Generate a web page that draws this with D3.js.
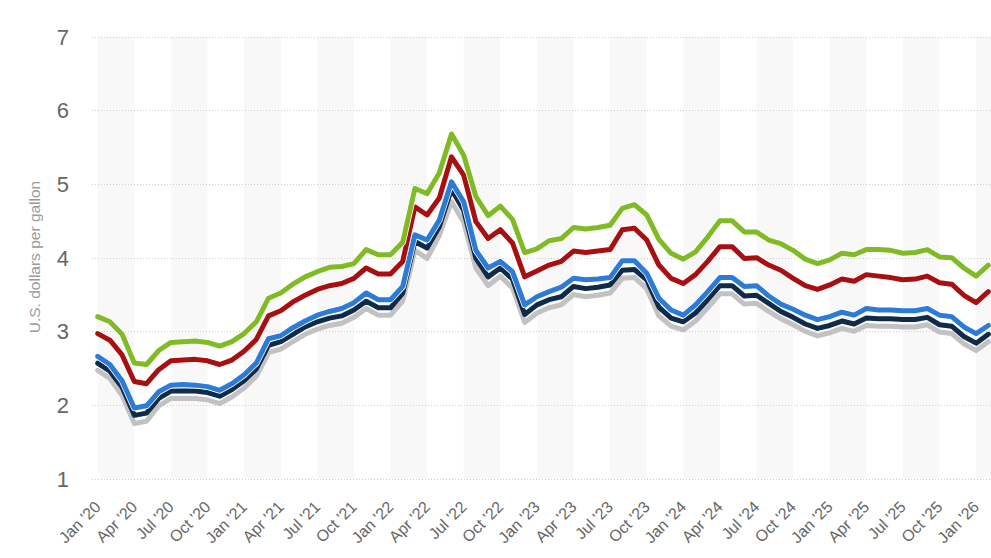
<!DOCTYPE html>
<html>
<head>
<meta charset="utf-8">
<script src="https://cdn.jsdelivr.net/npm/d3@7"></script>
<style>
  html, body { margin: 0; padding: 0; background: #fff; }
  svg { display: block; font-family: "Liberation Sans", Arial, sans-serif; }
</style>
</head>
<body>
<div id="app"></div>
<script>
// monthly prices, Jan 2020 .. Feb 2026 (U.S. dollars per gallon)
const premium = [
  3.20, 3.13, 2.96, 2.57, 2.55, 2.74, 2.85, 2.86, 2.87, 2.85, 2.80, 2.86,
  2.97, 3.13, 3.45, 3.52, 3.64, 3.74, 3.81, 3.87, 3.88, 3.92, 4.11, 4.04,
  4.04, 4.21, 4.94, 4.87, 5.15, 5.68, 5.39, 4.83, 4.57, 4.70, 4.52, 4.07,
  4.12, 4.23, 4.26, 4.41, 4.39, 4.41, 4.44, 4.67, 4.72, 4.58, 4.25, 4.06,
  3.98, 4.08, 4.28, 4.50, 4.50, 4.35, 4.35, 4.24, 4.19, 4.10, 3.98, 3.92,
  3.97, 4.06, 4.04, 4.11, 4.11, 4.10, 4.06, 4.07, 4.11, 4.01, 4.00, 3.86,
  3.75, 3.90
];
const midgrade = [
  2.97, 2.88, 2.68, 2.32, 2.29, 2.48, 2.60, 2.61, 2.62, 2.60, 2.55, 2.61,
  2.73, 2.89, 3.21, 3.28, 3.40, 3.49, 3.57, 3.62, 3.65, 3.72, 3.86, 3.78,
  3.78, 3.95, 4.69, 4.58, 4.81, 5.37, 5.12, 4.49, 4.26, 4.38, 4.20, 3.74,
  3.82, 3.90, 3.95, 4.09, 4.07, 4.09, 4.11, 4.38, 4.40, 4.24, 3.90, 3.72,
  3.65, 3.77, 3.95, 4.15, 4.15, 3.99, 4.00, 3.90, 3.83, 3.72, 3.62, 3.57,
  3.63, 3.71, 3.68, 3.77, 3.75, 3.73, 3.70, 3.71, 3.75, 3.66, 3.64, 3.49,
  3.39, 3.54
];
const allGrades = [
  2.66, 2.55, 2.33, 1.96, 1.99, 2.18, 2.27, 2.28, 2.27, 2.25, 2.20, 2.29,
  2.41, 2.57, 2.90, 2.94, 3.05, 3.14, 3.22, 3.27, 3.31, 3.39, 3.52, 3.43,
  3.43, 3.61, 4.31, 4.24, 4.51, 5.03, 4.76, 4.10, 3.86, 3.95, 3.81, 3.36,
  3.47, 3.54, 3.60, 3.72, 3.70, 3.71, 3.73, 3.96, 3.96, 3.79, 3.45, 3.29,
  3.22, 3.36, 3.54, 3.73, 3.73, 3.61, 3.62, 3.48, 3.37, 3.30, 3.22, 3.16,
  3.20, 3.26, 3.22, 3.31, 3.29, 3.29, 3.28, 3.28, 3.31, 3.22, 3.20, 3.06,
  2.97, 3.08
];
const regular = [
  2.57, 2.46, 2.24, 1.86, 1.89, 2.09, 2.19, 2.19, 2.19, 2.17, 2.12, 2.21,
  2.33, 2.49, 2.81, 2.86, 2.96, 3.06, 3.13, 3.18, 3.21, 3.29, 3.41, 3.32,
  3.32, 3.52, 4.22, 4.13, 4.42, 4.93, 4.64, 3.99, 3.74, 3.86, 3.71, 3.23,
  3.36, 3.43, 3.47, 3.61, 3.58, 3.60, 3.63, 3.83, 3.84, 3.70, 3.33, 3.18,
  3.13, 3.25, 3.43, 3.62, 3.62, 3.48, 3.49, 3.38, 3.27, 3.19, 3.10, 3.04,
  3.08, 3.14, 3.10, 3.18, 3.17, 3.17, 3.16, 3.16, 3.19, 3.09, 3.07, 2.93,
  2.84, 2.96
];
const conventional = [
  2.47, 2.36, 2.13, 1.75, 1.78, 1.99, 2.09, 2.09, 2.09, 2.07, 2.02, 2.11,
  2.23, 2.39, 2.71, 2.76, 2.86, 2.96, 3.03, 3.08, 3.11, 3.19, 3.31, 3.22,
  3.22, 3.41, 4.10, 3.99, 4.30, 4.76, 4.48, 3.86, 3.62, 3.75, 3.59, 3.12,
  3.25, 3.32, 3.36, 3.50, 3.47, 3.49, 3.52, 3.72, 3.73, 3.58, 3.21, 3.07,
  3.02, 3.14, 3.32, 3.51, 3.51, 3.37, 3.38, 3.27, 3.17, 3.09, 3.00, 2.94,
  2.98, 3.04, 3.00, 3.08, 3.07, 3.07, 3.06, 3.06, 3.09, 2.99, 2.97, 2.83,
  2.74, 2.86
];

const tickLabels = [
  "Jan '20", "Apr '20", "Jul '20", "Oct '20",
  "Jan '21", "Apr '21", "Jul '21", "Oct '21",
  "Jan '22", "Apr '22", "Jul '22", "Oct '22",
  "Jan '23", "Apr '23", "Jul '23", "Oct '23",
  "Jan '24", "Apr '24", "Jul '24", "Oct '24",
  "Jan '25", "Apr '25", "Jul '25", "Oct '25",
  "Jan '26"
];
const yTicks = [1, 2, 3, 4, 5, 6, 7];

// drawn bottom to top; halo = thin white edge round the line
const series = [
  { values: conventional, color: "#c2c2c2", halo: false },
  { values: regular, color: "#0f2b47", halo: false },
  { values: allGrades, color: "#2c7bd6", halo: true },
  { values: midgrade, color: "#a80f10", halo: true },
  { values: premium, color: "#80ba24", halo: true },
];

const width = 991;
const height = 558;

const svg = d3.select("#app").append("svg")
  .attr("width", width).attr("height", height);

const x = d3.scaleLinear().domain([0, 72]).range([97.7, 976.1]);
const y = d3.scaleLinear().domain([1, 7]).range([478.7, 36.7]);

// quarter bands (Q1 and Q3 shaded)
const bandStarts = d3.range(0, premium.length, 6);
svg.append("g")
  .selectAll("rect")
  .data(bandStarts)
  .join("rect")
  .attr("x", (d) => x(d))
  .attr("y", y(7))
  .attr("width", (d) => Math.min(x(d + 3), width) - x(d))
  .attr("height", y(1) - y(7))
  .attr("fill", "#f8f8f8");

// grid
svg.append("g")
  .selectAll("line")
  .data(yTicks)
  .join("line")
  .attr("x1", 92).attr("x2", width)
  .attr("y1", (d) => Math.round(y(d)) + 0.5)
  .attr("y2", (d) => Math.round(y(d)) + 0.5)
  .attr("stroke", "#cfcfcf")
  .attr("stroke-width", 1)
  .attr("stroke-dasharray", "1,2");

// y labels
svg.append("g")
  .selectAll("text")
  .data(yTicks)
  .join("text")
  .attr("x", 69)
  .attr("y", (d) => y(d))
  .attr("dy", "0.36em")
  .attr("text-anchor", "end")
  .style("font-size", "22px")
  .attr("fill", "#666")
  .text((d) => d);

svg.append("text")
  .attr("transform", "translate(40,257) rotate(-90)")
  .attr("text-anchor", "middle")
  .style("font-size", "15.5px")
  .attr("fill", "#999")
  .text("U.S. dollars per gallon");

// x labels
svg.append("g")
  .selectAll("text")
  .data(tickLabels)
  .join("text")
  .attr("transform", (d, i) => `translate(${x(i * 3) + 4},508) rotate(-45)`)
  .attr("text-anchor", "end")
  .style("font-size", "16px")
  .attr("fill", "#666")
  .text((d) => d);

// lines
const line = d3.line()
  .x((d, i) => x(i))
  .y((d) => y(d));

const g = svg.append("g");
series.forEach((s) => {
  if (s.halo) {
    g.append("path")
      .attr("d", line(s.values))
      .attr("fill", "none")
      .attr("stroke", "#fff")
      .attr("stroke-width", 6.5)
      .attr("stroke-linejoin", "round")
      .attr("stroke-linecap", "round");
  }
  g.append("path")
    .attr("d", line(s.values))
    .attr("fill", "none")
    .attr("stroke", s.color)
    .attr("stroke-width", 5)
    .attr("stroke-linejoin", "round")
    .attr("stroke-linecap", "round");
});
</script>
</body>
</html>
